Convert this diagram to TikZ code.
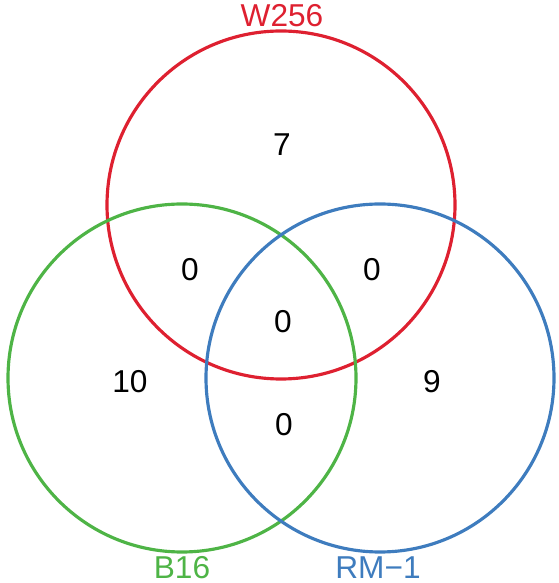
\documentclass[tikz,border=0pt]{standalone}
\usepackage{fontspec}
\setmainfont{Liberation Sans}
\usepackage{tikz}
\usetikzlibrary{positioning}
\definecolor{setred}{RGB}{222,32,48}
\definecolor{setgreen}{RGB}{78,180,70}
\definecolor{setblue}{RGB}{62,124,190}
\newcommand{\vennset}[3]{%
  \draw[#1, line width=1.8pt] (#2,#3) circle (3.48);}
\newcommand{\vcount}[4]{\node (#1) at (#2,#3) {#4};}

\begin{document}
\begin{tikzpicture}[font=\fontsize{18}{21}\selectfont]
  \useasboundingbox (0,0) rectangle (11.16,11.66);
  \vennset{setred}{5.62}{7.56}
  \vennset{setgreen}{3.64}{4.10}
  \vennset{setblue}{7.60}{4.10}
  \node[text=setred] (wlabel) at (5.64,11.34) {W256};
  \node[text=setgreen] (blabel) at (3.64,0.30) {B16};
  \node[text=setblue] (rlabel) at (7.56,0.30) {RM−1};
  \vcount{wonly}{5.64}{8.76}{7}
  \vcount{wb}{3.80}{6.26}{0}
  \vcount{wr}{7.44}{6.26}{0}
  \vcount{wbr}{5.66}{5.22}{0}
  \vcount{bonly}{2.60}{4.02}{10}
  \vcount{br}{5.68}{3.16}{0}
  \vcount{ronly}{8.64}{4.02}{9}
\end{tikzpicture}
\end{document}
